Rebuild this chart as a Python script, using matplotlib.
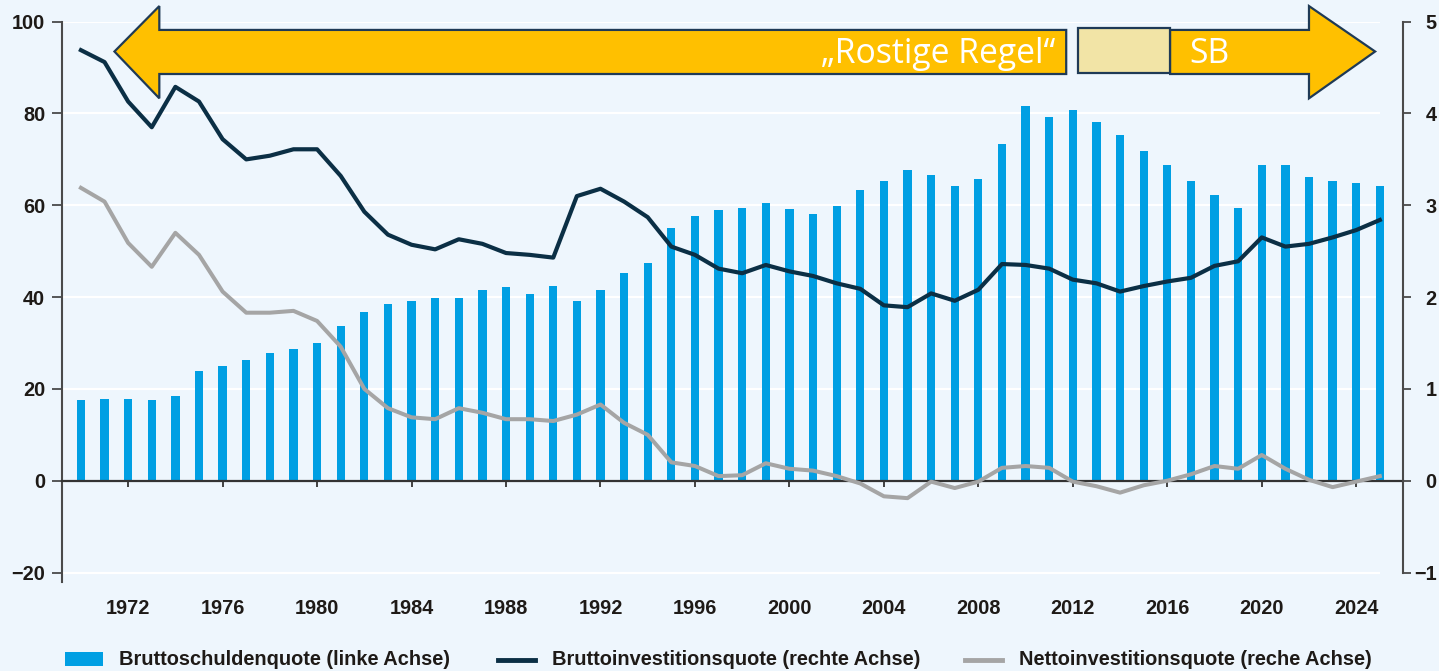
import matplotlib
matplotlib.use("Agg")
import matplotlib.pyplot as plt
from matplotlib.patches import Polygon, Rectangle
from matplotlib.lines import Line2D

# ---- data -------------------------------------------------------------
years = list(range(1970, 2026))

# Bruttoschuldenquote, % of GDP (left axis)
debt_ratio = [17.5, 17.8, 17.8, 17.5, 18.4, 23.8, 25.0, 26.2, 27.9, 28.6,
              30.1, 33.8, 36.7, 38.6, 39.1, 39.7, 39.7, 41.5, 42.2, 40.7,
              42.4, 39.1, 41.5, 45.2, 47.5, 55.0, 57.7, 58.9, 59.5, 60.4,
              59.2, 58.0, 59.8, 63.4, 65.2, 67.6, 66.7, 64.3, 65.8, 73.4,
              81.7, 79.3, 80.8, 78.1, 75.4, 71.8, 68.8, 65.2, 62.2, 59.5,
              68.8, 68.8, 66.1, 65.2, 64.9, 64.3]

# Bruttoinvestitionsquote, % of GDP (right axis)
gross_inv = [4.69, 4.56, 4.13, 3.85, 4.29, 4.13, 3.72, 3.50, 3.54, 3.61,
             3.61, 3.32, 2.93, 2.68, 2.57, 2.52, 2.63, 2.58, 2.48, 2.46,
             2.43, 3.10, 3.18, 3.04, 2.87, 2.55, 2.46, 2.31, 2.26, 2.35,
             2.28, 2.23, 2.15, 2.09, 1.91, 1.89, 2.04, 1.96, 2.08, 2.36,
             2.35, 2.31, 2.19, 2.15, 2.06, 2.12, 2.17, 2.21, 2.34, 2.39,
             2.65, 2.55, 2.58, 2.65, 2.73, 2.84]

# Nettoinvestitionsquote, % of GDP (right axis)
net_inv = [3.19, 3.04, 2.59, 2.33, 2.70, 2.46, 2.06, 1.83, 1.83, 1.85,
           1.74, 1.46, 1.00, 0.79, 0.69, 0.67, 0.79, 0.74, 0.67, 0.67,
           0.65, 0.72, 0.83, 0.63, 0.50, 0.20, 0.16, 0.05, 0.06, 0.19,
           0.13, 0.11, 0.05, -0.03, -0.17, -0.19, -0.01, -0.08, -0.01, 0.14,
           0.16, 0.14, -0.01, -0.06, -0.13, -0.05, 0.00, 0.07, 0.16, 0.13,
           0.28, 0.13, 0.01, -0.07, -0.01, 0.05]

left_ticks = [-20, 0, 20, 40, 60, 80, 100]
right_ticks = [-1, 0, 1, 2, 3, 4, 5]
year_ticks = list(range(1972, 2025, 4))

label_debt = "Bruttoschuldenquote (linke Achse)"
label_gross = "Bruttoinvestitionsquote (rechte Achse)"
label_net = "Nettoinvestitionsquote (reche Achse)"
label_old_rule = "\u201eRostige Regel\u201c"
label_sb = "SB"

# ---- style ------------------------------------------------------------
BG = "#EEF6FD"
BAR = "#009FE3"
DARK = "#0B2F45"
GREY = "#A5A5A5"
AXIS = "#4A4A4A"
TXT = "#1E1A17"
YELLOW = "#FFC000"
KHAKI = "#F2E4A6"
EDGE = "#1F3A56"
FONT = "Liberation Sans"
TICK_SIZE = 14.3
LEGEND_SIZE = 14.4


def signed(t):
    return str(t) if t >= 0 else "\u2212" + str(-t)


fig = plt.figure(figsize=(14.39, 6.71), dpi=100)
fig.patch.set_facecolor(BG)
ax = fig.add_axes([0.0431, 0.1331, 0.9322, 0.8346])
ax.set_facecolor(BG)
ax.set_xlim(1969.2, 2026.0)
ax.set_ylim(-22, 100)

# white horizontal grid
ax.hlines([t for t in left_ticks if t != 0], 1969.2, 2025.0,
          color="white", lw=1.6, zorder=1)

ax.bar(years, debt_ratio, width=0.35, color=BAR, zorder=2)

# spines / ticks of the left axis
for s in ("top", "right"):
    ax.spines[s].set_visible(False)
ax.spines["left"].set_color(AXIS)
ax.spines["left"].set_linewidth(1.5)
ax.spines["bottom"].set_position(("data", 0))
ax.spines["bottom"].set_color("#333333")
ax.spines["bottom"].set_linewidth(1.6)
ax.spines["bottom"].set_zorder(4)

ax.set_yticks(left_ticks)
ax.set_yticklabels([signed(t) for t in left_ticks])
ax.set_xticks(year_ticks)
ax.set_xticklabels([str(y) for y in year_ticks])
ax.tick_params(axis="y", length=7, width=1.3, color=AXIS, pad=5,
               labelsize=TICK_SIZE, labelcolor=TXT)
ax.tick_params(axis="x", length=4, width=1.3, color="#333333", pad=81,
               labelsize=TICK_SIZE, labelcolor=TXT)
for lab in ax.get_xticklabels() + ax.get_yticklabels():
    lab.set_fontfamily(FONT)
    lab.set_fontweight("bold")

# right axis with investment ratios
ax2 = ax.twinx()
ax2.set_ylim(-1.1, 5)
ax2.plot(years, net_inv, color=GREY, lw=2.9, zorder=3, solid_joinstyle="round")
ax2.plot(years, gross_inv, color=DARK, lw=3.0, zorder=4, solid_joinstyle="round")
for s in ("top", "left", "bottom"):
    ax2.spines[s].set_visible(False)
ax2.spines["right"].set_bounds(-1, 5)
ax2.spines["right"].set_color(AXIS)
ax2.spines["right"].set_linewidth(1.5)
ax2.set_yticks(right_ticks)
ax2.set_yticklabels([signed(t) for t in right_ticks])
ax2.tick_params(axis="y", length=6, width=1.3, color=AXIS, pad=18,
                labelsize=TICK_SIZE, labelcolor=TXT)
for lab in ax2.get_yticklabels():
    lab.set_fontfamily(FONT)
    lab.set_fontweight("bold")
    lab.set_horizontalalignment("right")

# ---- regime arrow across the top (x in years, y in left-axis units) -----
shaft_top, shaft_bot = 98.2, 88.6
head_top, head_bot, mid = 103.4, 83.3, 93.5

left_arrow = Polygon([(1971.42, mid), (1973.32, head_top), (1973.32, shaft_top),
                      (2011.72, shaft_top), (2011.72, shaft_bot),
                      (1973.32, shaft_bot), (1973.32, head_bot)],
                     closed=True, facecolor=YELLOW, edgecolor=EDGE, lw=1.6,
                     clip_on=False, zorder=6)
ax.add_patch(left_arrow)

transition = Rectangle((2012.23, 88.9), 2016.12 - 2012.23, 98.6 - 88.9,
                       facecolor=KHAKI, edgecolor=EDGE, lw=1.6,
                       clip_on=False, zorder=6)
ax.add_patch(transition)

right_arrow = Polygon([(2016.12, shaft_top), (2022.0, shaft_top), (2022.0, head_top),
                       (2024.8, mid), (2022.0, head_bot), (2022.0, shaft_bot),
                       (2016.12, shaft_bot)],
                      closed=True, facecolor=YELLOW, edgecolor=EDGE, lw=1.6,
                      clip_on=False, zorder=6)
ax.add_patch(right_arrow)

ax.text(2011.25, 91.0, label_old_rule, ha="right", va="baseline", color="white",
        fontsize=24.3, family="Open Sans", zorder=7, clip_on=False)
ax.text(2016.95, 91.0, label_sb, ha="left", va="baseline", color="white",
        fontsize=24.3, family="Open Sans", zorder=7, clip_on=False)

# ---- legend row ---------------------------------------------------------
W, H = 1439.0, 671.0
ly = 1 - 659.5 / H
fig.patches.append(Rectangle((65 / W, 1 - 666 / H), 37.5 / W, 14 / H,
                             transform=fig.transFigure, facecolor=BAR,
                             edgecolor="none"))
fig.lines.append(Line2D([498 / W, 535 / W], [ly, ly], transform=fig.transFigure,
                        color=DARK, lw=3.5))
fig.lines.append(Line2D([965 / W, 1002 / W], [ly, ly], transform=fig.transFigure,
                        color=GREY, lw=3.5))
for x0, txt in ((119, label_debt), (552, label_gross), (1019, label_net)):
    fig.text(x0 / W, ly, txt, ha="left", va="center", fontsize=LEGEND_SIZE,
             family=FONT, fontweight="bold", color=TXT)

fig.savefig("out.png", dpi=100, facecolor=BG)
